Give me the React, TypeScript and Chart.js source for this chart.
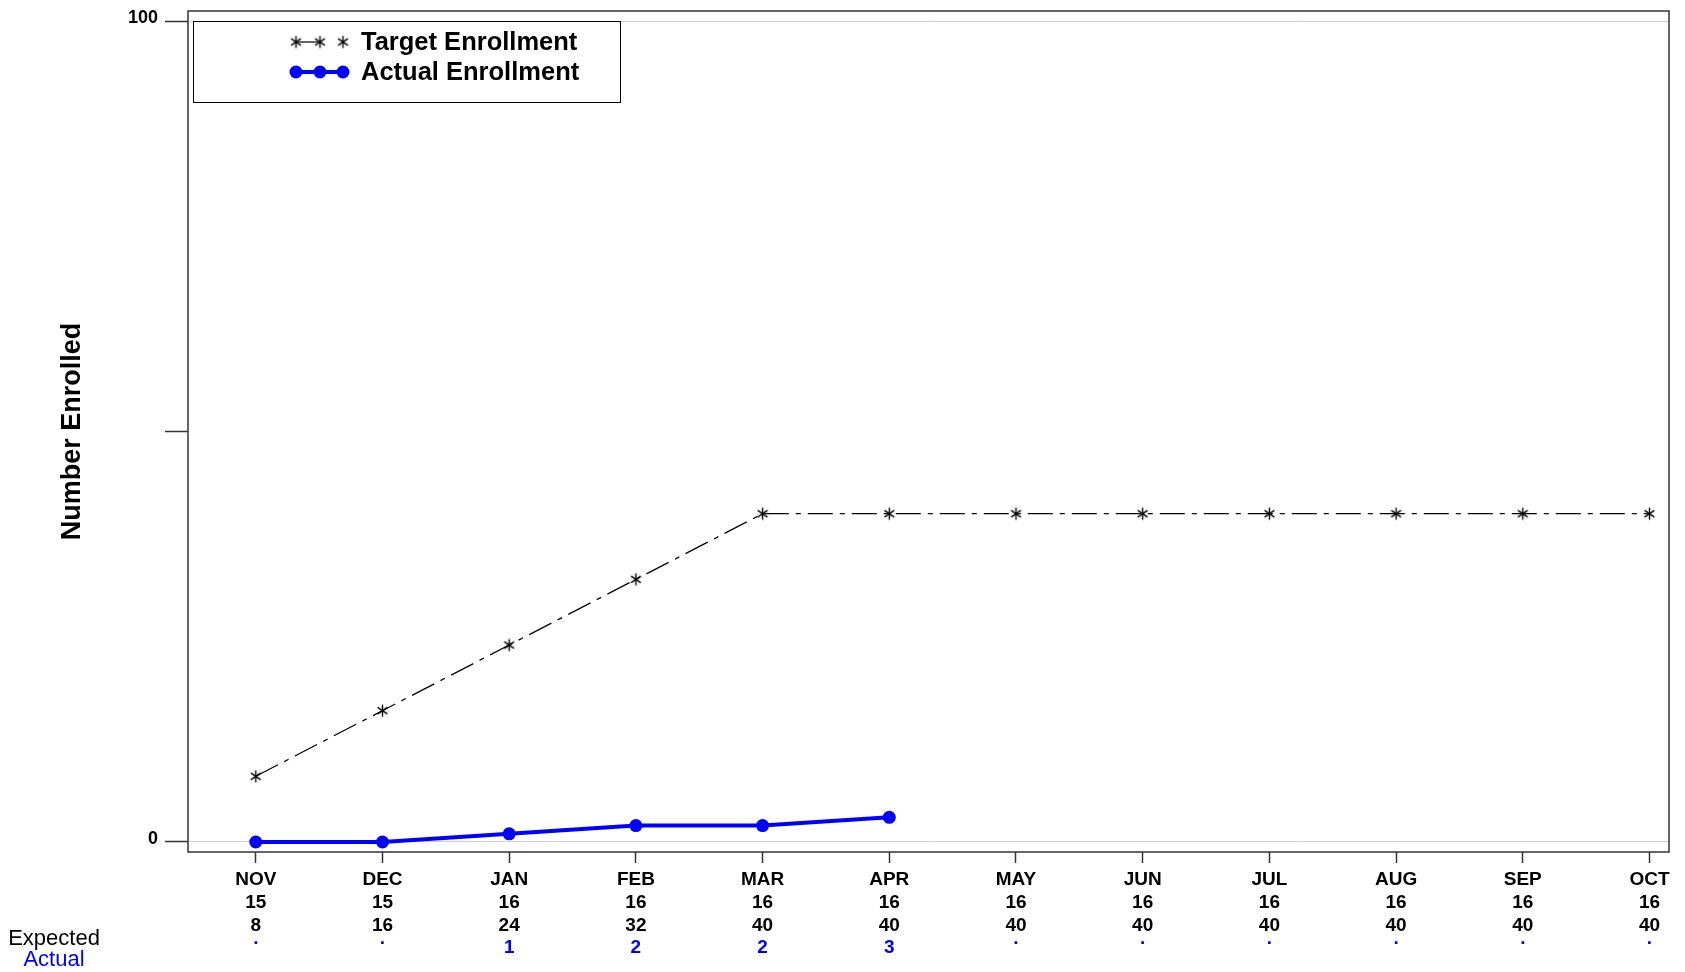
import React, { useEffect, useRef } from "react";
import { Chart, registerables } from "chart.js";

Chart.register(...registerables);

const months = ["NOV", "DEC", "JAN", "FEB", "MAR", "APR", "MAY", "JUN", "JUL", "AUG", "SEP", "OCT"];
const years = ["15", "15", "16", "16", "16", "16", "16", "16", "16", "16", "16", "16"];
const expected = [8, 16, 24, 32, 40, 40, 40, 40, 40, 40, 40, 40];
const actual: (number | null)[] = [0, 0, 1, 2, 2, 3, null, null, null, null, null, null];
const actualRowLabels = [".", ".", "1", "2", "2", "3", ".", ".", ".", ".", ".", "."];
const yTickValues = [0, 50, 100];
const yTickLabels = ["0", "", "100"];
const seriesNames = ["Target Enrollment", "Actual Enrollment"];
const rowNames = ["Expected", "Actual"];

const FONT = "'Liberation Sans', Arial, Helvetica, sans-serif";
const BLUE = "#0000ff";

function makeStar(): HTMLCanvasElement {
  const c = document.createElement("canvas");
  c.width = 15;
  c.height = 15;
  const g = c.getContext("2d")!;
  g.strokeStyle = "#000";
  g.lineWidth = 1.4;
  const cx = 7.5, cy = 7.5, r = 6;
  [90, 35, 145].forEach((deg) => {
    const a = (deg * Math.PI) / 180;
    g.beginPath();
    g.moveTo(cx - r * Math.cos(a), cy - r * Math.sin(a));
    g.lineTo(cx + r * Math.cos(a), cy + r * Math.sin(a));
    g.stroke();
  });
  return c;
}

export default function App() {
  const ref = useRef<HTMLCanvasElement>(null);

  useEffect(() => {
    const star = makeStar();
    const overlay = {
      id: "overlay",
      afterDraw(chart: any) {
        const ctx = chart.ctx as CanvasRenderingContext2D;
        const area = chart.chartArea;
        const xs = chart.scales.x;
        ctx.save();
        // frame
        ctx.strokeStyle = "#333";
        ctx.lineWidth = 1.5;
        ctx.strokeRect(area.left, area.top, area.right - area.left, area.bottom - area.top);

        // legend
        const lx = area.left + 5, ly = area.top + 10, lw = 427, lh = 81;
        ctx.fillStyle = "#fff";
        ctx.fillRect(lx, ly, lw, lh);
        ctx.strokeStyle = "#000";
        ctx.lineWidth = 1;
        ctx.strokeRect(lx + 0.5, ly + 0.5, lw, lh);
        const mx = [lx + 103, lx + 127, lx + 150];
        const r1 = ly + 21, r2 = ly + 51;
        ctx.strokeStyle = "#000";
        ctx.lineWidth = 1.2;
        ctx.beginPath();
        ctx.moveTo(mx[0], r1);
        ctx.lineTo(mx[1], r1);
        ctx.stroke();
        mx.forEach((x) => ctx.drawImage(star, x - 7.5, r1 - 7.5));
        ctx.strokeStyle = BLUE;
        ctx.lineWidth = 4;
        ctx.beginPath();
        ctx.moveTo(mx[0], r2);
        ctx.lineTo(mx[2], r2);
        ctx.stroke();
        ctx.fillStyle = BLUE;
        mx.forEach((x) => {
          ctx.beginPath();
          ctx.arc(x, r2, 6.5, 0, Math.PI * 2);
          ctx.fill();
        });
        ctx.fillStyle = "#000";
        ctx.font = `bold 25.5px ${FONT}`;
        ctx.textAlign = "left";
        ctx.textBaseline = "middle";
        ctx.fillText(seriesNames[0], lx + 168, r1 + 1);
        ctx.fillText(seriesNames[1], lx + 168, r2 + 1);

        // actual row under x axis
        const rowY = area.bottom + 96;
        ctx.font = `bold 19px ${FONT}`;
        ctx.fillStyle = BLUE;
        ctx.textAlign = "center";
        actualRowLabels.forEach((t, i) => {
          const x = xs.getPixelForValue(i);
          if (t === ".") {
            ctx.textBaseline = "alphabetic";
            ctx.fillText(t, x, rowY - 4);
          } else {
            ctx.textBaseline = "middle";
            ctx.fillText(t, x, rowY);
          }
        });

        // row names
        ctx.font = `22px ${FONT}`;
        ctx.textBaseline = "middle";
        ctx.fillStyle = "#000";
        ctx.fillText(rowNames[0], 54, area.bottom + 87);
        ctx.fillStyle = BLUE;
        ctx.fillText(rowNames[1], 54, area.bottom + 108);
        ctx.restore();
      },
    };

    const chart = new Chart(ref.current!, {
      type: "line",
      data: {
        datasets: [
          {
            label: seriesNames[0],
            data: expected.map((v, i) => ({ x: i, y: v })),
            borderColor: "#000",
            borderWidth: 1.2,
            borderDash: [25, 7, 5, 7],
            pointStyle: star as any,
            pointRadius: 7,
            backgroundColor: "#000",
            tension: 0,
          },
          {
            label: seriesNames[1],
            data: actual.map((v, i) => ({ x: i, y: v })),
            borderColor: BLUE,
            backgroundColor: BLUE,
            borderWidth: 4,
            pointStyle: "circle",
            pointRadius: 6.5,
            pointBorderWidth: 0,
            spanGaps: false,
            tension: 0,
          },
        ],
      },
      options: {
        animation: false,
        responsive: false,
        events: [],
        layout: { padding: { top: 11, right: 16, left: 0, bottom: 0 } },
        plugins: { legend: { display: false }, tooltip: { enabled: false } },
        scales: {
          x: {
            type: "linear",
            min: -0.535,
            max: 11.154,
            afterBuildTicks: (s: any) => {
              s.ticks = months.map((_, i) => ({ value: i }));
            },
            afterFit: (s: any) => {
              s.height = 120;
              s.paddingLeft = 0;
              s.paddingRight = 0;
            },
            ticks: {
              autoSkip: false,
              maxRotation: 0,
              minRotation: 0,
              padding: 5,
              color: "#000",
              font: { family: FONT, size: 19, weight: "bold", lineHeight: 23 / 19 },
              callback: (_v: any, i: number) => [months[i], years[i], String(expected[i])],
            },
            grid: { drawOnChartArea: false, drawTicks: true, tickLength: 11, tickColor: "#333", tickWidth: 1.5 },
            border: { display: false },
          },
          y: {
            type: "linear",
            min: -1.22,
            max: 101.25,
            afterBuildTicks: (s: any) => {
              s.ticks = yTickValues.map((v) => ({ value: v }));
            },
            afterFit: (s: any) => {
              s.width = 188;
              s.paddingTop = 0;
              s.paddingBottom = 0;
            },
            ticks: {
              padding: 7,
              color: "#000",
              labelOffset: -3,
              font: { family: FONT, size: 18, weight: "bold" },
              callback: (_v: any, i: number) => yTickLabels[i],
            },
            grid: {
              color: (c: any) => (c.tick && c.tick.value === 50 ? "rgba(0,0,0,0)" : "#d0d0d0"),
              lineWidth: 1,
              drawTicks: true,
              tickLength: 23,
              tickColor: "#333",
              tickWidth: 1.5,
            },
            border: { display: false },
            title: {
              display: true,
              text: "Number Enrolled",
              color: "#000",
              font: { family: FONT, size: 27, weight: "bold", lineHeight: 1.2 },
              padding: { top: 56, bottom: 0 },
            },
          },
        },
      },
      plugins: [overlay],
    } as any);
    return () => chart.destroy();
  }, []);

  return (
    <div style={{ position: "fixed", left: 0, top: 0, width: 1685, height: 972, background: "#fff" }}>
      <canvas ref={ref} width={1685} height={972} style={{ display: "block" }} />
    </div>
  );
}
